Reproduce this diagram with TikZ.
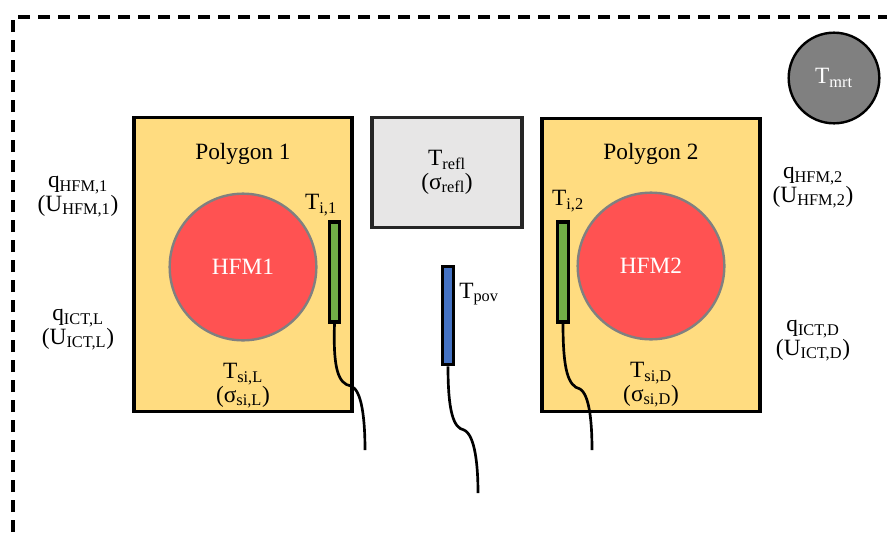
\documentclass[tikz,border=0pt]{standalone}
\usepackage{fontspec}
\setmainfont{Liberation Serif}
\usetikzlibrary{positioning}
\definecolor{polyyellow}{RGB}{255,220,128}
\definecolor{hfmred}{RGB}{255,82,82}
\definecolor{sensgreen}{RGB}{112,173,71}
\definecolor{sensblue}{RGB}{68,114,196}
\definecolor{reflgray}{RGB}{231,230,230}
\definecolor{mrtgray}{RGB}{128,128,128}
\newcommand{\subtxt}[1]{\textsubscript{#1}}

\begin{document}
\begin{tikzpicture}[
    x=0.75pt, y=-0.75pt,
    polybox/.style={rectangle, draw=black, fill=polyyellow, line width=2.4pt, minimum width=163.5pt, minimum height=220pt, inner sep=0pt},
    reflbox/.style={rectangle, draw=black!85, fill=reflgray, line width=2.4pt, minimum width=112.5pt, minimum height=83pt, align=center, font=\fontsize{17.5}{17.5}\selectfont},
    hfmcirc/.style={circle, draw=gray, fill=hfmred, line width=1.8pt, minimum size=110pt, inner sep=0pt, text=white, font=\fontsize{17.5}{20}\selectfont},
    mrtcirc/.style={circle, draw=black, fill=mrtgray, line width=1.8pt, minimum size=68pt, inner sep=0pt, text=white, font=\fontsize{17.5}{20}\selectfont},
    sensor/.style={rectangle, draw=black, line width=2.3pt, minimum width=8pt, minimum height=75pt, inner sep=0pt},
    lbl/.style={align=center, inner sep=0pt, font=\fontsize{17.5}{17.5}\selectfont},
    wire/.style={line width=2pt},
    frame/.style={dashed, line width=2.6pt, dash pattern=on 9pt off 6pt}
]
\useasboundingbox (0,0) rectangle (887,532);

% outer boundary
\coordinate (fbl) at (13,532);
\coordinate (ftl) at (13,17);
\coordinate (ftr) at (887,17);
\draw[frame] (fbl) -- (ftl) -- (ftr);

% polygons
\node[polybox] (poly1) at (243,264.5) {};
\node[polybox] (poly2) at (651,265) {};
\node[lbl, below=20pt of poly1.north] (poly1lbl) {Polygon 1};
\node[lbl, below=20pt of poly2.north] (poly2lbl) {Polygon 2};

% heat flux meters
\node[hfmcirc] (hfm1) at (243,267) {HFM1};
\node[hfmcirc] (hfm2) at (651,266) {HFM2};

% reflector and globe
\node[reflbox] (refl) at (447,172.5) {T\subtxt{refl}\\(σ\subtxt{refl})};
\node[mrtcirc] (mrt) at (834,78) {T\subtxt{mrt}};

% sensors
\node[sensor, fill=sensgreen] (ti1) at (334.5,272) {};
\node[sensor, fill=sensgreen] (ti2) at (563,272) {};
\node[sensor, fill=sensblue, minimum height=74pt] (tpov) at (448,315.5) {};

% sensor labels
\node[lbl] (ti1lbl) at (321,205) {T\subtxt{i,1}};
\node[lbl] (ti2lbl) at (568,201) {T\subtxt{i,2}};
\node[lbl, anchor=west] (tpovlbl) at (459,294) {T\subtxt{pov}};
\node[lbl] (tsil) at (243,386) {T\subtxt{si,L}\\(σ\subtxt{si,L})};
\node[lbl] (tsid) at (651,385) {T\subtxt{si,D}\\(σ\subtxt{si,D})};

% heat flux labels
\node[lbl] (qhfm1) at (78,197) {q\subtxt{HFM,1}\\(U\subtxt{HFM,1})};
\node[lbl] (qictl) at (78,330) {q\subtxt{ICT,L}\\(U\subtxt{ICT,L})};
\node[lbl] (qhfm2) at (813,188) {q\subtxt{HFM,2}\\(U\subtxt{HFM,2})};
\node[lbl] (qictd) at (813,341) {q\subtxt{ICT,D}\\(U\subtxt{ICT,D})};

% cables
\coordinate (c1) at (365,450);
\coordinate (c2) at (592,450);
\coordinate (c3) at (478,493);
\draw[wire] (ti1.south) .. controls (333,368) and (338,384) .. (351,386)
    .. controls (362,390) and (365,420) .. (c1);
\draw[wire] (ti2.south) .. controls (563,370) and (568,386) .. (580,389)
    .. controls (590,395) and (592,425) .. (c2);
\draw[wire] (tpov.south) .. controls (448,410) and (453,428) .. (464,430)
    .. controls (475,435) and (478,465) .. (c3);

\end{tikzpicture}
\end{document}
